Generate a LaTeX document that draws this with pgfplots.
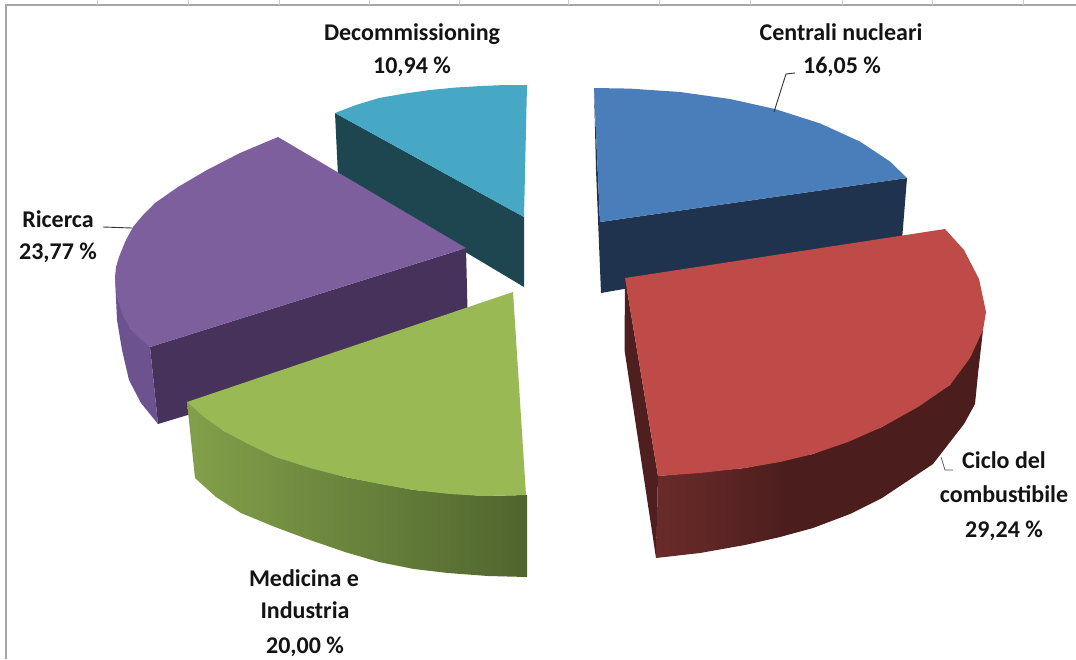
\documentclass[border=0pt]{standalone}
\usepackage{pgfplots}
\pgfplotsset{compat=1.18}
\usepackage{fontspec}
\setmainfont{Carlito}

\definecolor{bluetop}{HTML}{4A7EBB}
\definecolor{blueside}{HTML}{1F334F}
\definecolor{redtop}{HTML}{BE4B48}
\definecolor{redside}{HTML}{4F1F1F}
\definecolor{greentop}{HTML}{98B954}
\definecolor{purpletop}{HTML}{7D5F9E}
\definecolor{purpleside}{HTML}{46325A}
\definecolor{purplelight}{HTML}{6D5290}
\definecolor{tealtop}{HTML}{46A8C4}
\definecolor{tealside}{HTML}{1D4650}
\definecolor{framegray}{HTML}{A6A6A6}
\definecolor{a1}{HTML}{682B29}
\definecolor{a2}{HTML}{5C2524}
\definecolor{a3}{HTML}{4C1D1D}
\definecolor{g1}{HTML}{82A04A}
\definecolor{g2}{HTML}{50652E}

\pgfdeclarehorizontalshading{redfront}{100bp}{color(0bp)=(a1); color(25bp)=(a1); color(35bp)=(a2); color(45bp)=(a3); color(100bp)=(a3)}
\pgfdeclarehorizontalshading{greenfront}{100bp}{color(0bp)=(g1); color(25bp)=(g1); color(75bp)=(g2); color(100bp)=(g2)}

\pgfplotsset{face/.style={no marks, draw=none, fill=#1}}

\begin{document}
\begin{tikzpicture}
\begin{axis}[
    width=1076pt, height=659pt, scale only axis,
    xmin=0, xmax=1076, ymin=0, ymax=659,
    y dir=reverse,
    hide axis,
    clip=true,
]
% page background and the sheet frame behind the chart
\addplot[face=white] coordinates {(0,0)(1076,0)(1076,659)(0,659)} -- cycle;
\addplot[no marks, framegray, line width=1.8pt] coordinates {(6,659)(6,5)(1076,5)};
\addplot[no marks, framegray!60, line width=0.6pt] coordinates {(97,0)(97,5)};
\addplot[no marks, framegray!60, line width=0.6pt] coordinates {(188,0)(188,5)};
\addplot[no marks, framegray!60, line width=0.6pt] coordinates {(279,0)(279,5)};
\addplot[no marks, framegray!60, line width=0.6pt] coordinates {(369,0)(369,5)};
\addplot[no marks, framegray!60, line width=0.6pt] coordinates {(459,0)(459,5)};
\addplot[no marks, framegray!60, line width=0.6pt] coordinates {(568,0)(568,5)};
\addplot[no marks, framegray!60, line width=0.6pt] coordinates {(659,0)(659,5)};
\addplot[no marks, framegray!60, line width=0.6pt] coordinates {(750,0)(750,5)};
\addplot[no marks, framegray!60, line width=0.6pt] coordinates {(842,0)(842,5)};
\addplot[no marks, framegray!60, line width=0.6pt] coordinates {(932,0)(932,5)};
\addplot[no marks, framegray!60, line width=0.6pt] coordinates {(1023,0)(1023,5)};

% Decommissioning
\addplot[face=tealside] coordinates {(335,113)(524,217)(524,287)(338,176)} -- cycle;
\addplot[face=tealtop] coordinates {(335,113)(356,105)(379,98)(405,93.5)(430,90)(456,87.5)(482,86)(505,85)(527,85)(524,217)} -- cycle;

% Ricerca
\addplot[face=purpleside] coordinates {(150,347)(466,248)(468,330)(158,424)} -- cycle;
\addplot[face=purplelight] coordinates {(115,277)(118,300)(130,328)(150,347)(158,424)(141,403)(129,380)(122,350)(117,320)} -- cycle;
\addplot[face=purpletop] coordinates {(278,137)(240,153)(207,170)(178,187)(155,203)(143,215)(133,227)(125,242)(119,257)(116,267)(115,277)(116,290)(118,300)(123,316)(130,328)(139,338)(150,347)(466,248)} -- cycle;

% Centrali nucleari
\addplot[face=blueside] coordinates {(594,88)(600,222)(907,178)(902,240)(601,293)(596,170)} -- cycle;
\addplot[face=bluetop] coordinates {(594,88)(630,88.6)(680,92)(730,99)(775,109)(820,123.4)(860,141.6)(890,161.5)(907,178)(600,222)} -- cycle;

% Medicina e Industria
\addplot[no marks, draw=none, shading=greenfront] coordinates {(187,402)(224,431)(276,457)(345,477)(414,490)(483,496)(527,495)(527,577)(488,576)(448,573)(414,569)(379,562)(345,552)(310,540)(275,527)(241,513)(216,497)(195,478)} -- cycle;
\addplot[face=greentop] coordinates {(513,292)(187,402)(204,417)(224,431)(250,445)(276,457)(310,468)(345,477)(380,484)(414,490)(450,494)(483,496)(526,495)} -- cycle;

% Ciclo del combustibile
\addplot[face=redside] coordinates {(625,278)(658,476)(656,558)(624.5,350)} -- cycle;
\addplot[no marks, draw=none, shading=redfront] coordinates {(658,476)(745,468)(813,454)(882,427)(950,385)(983,330)(978,374)(975,404)(964,424)(933,464)(882,498)(850,514)(813,528)(780,537)(745,545)(700,553)(656,558)} -- cycle;
\addplot[face=redtop] coordinates {(945,229)(964,250)(979,279)(986,312)(983,330)(970,358)(950,385)(918,407)(882,427)(848,442)(813,454)(780,462)(745,468)(700,473)(658,476)(625,278)} -- cycle;

% leader lines
\addplot[no marks, black!80, line width=0.9pt] coordinates {(774,112)(786,74)(795,73)};
\addplot[no marks, black!80, line width=0.9pt] coordinates {(103,227)(132,228)};
\addplot[no marks, black!70, line width=0.7pt] coordinates {(941,457)(945,470)(953,470)};

% labels
\pgfplotsset{}
\path[every node/.style={anchor=base, font=\fontsize{24}{24}\selectfont\bfseries, text=black!92}]
  node at (axis cs:412,40) {Decommissioning}
  node at (axis cs:412,73) {10,94 \%}
  node at (axis cs:841,40) {Centrali nucleari}
  node at (axis cs:842,73) {16,05 \%}
  node at (axis cs:58,227) {Ricerca}
  node at (axis cs:58,259) {23,77 \%}
  node at (axis cs:1004,468) {Ciclo del}
  node at (axis cs:1004,502) {combustibile}
  node at (axis cs:1004,537) {29,24 \%}
  node at (axis cs:304,586) {Medicina e}
  node at (axis cs:305,618) {Industria}
  node at (axis cs:305,653) {20,00 \%};
\end{axis}
\end{tikzpicture}
\end{document}
